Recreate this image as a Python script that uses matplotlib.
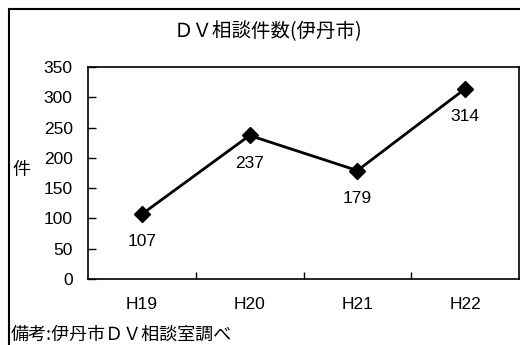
import matplotlib.pyplot as plt
import matplotlib.patches as patches

plt.rcParams['font.family'] = ['Liberation Sans', 'Noto Sans CJK JP', 'DejaVu Sans']

# データ
years = ['H19', 'H20', 'H21', 'H22']
counts = [107, 237, 179, 314]
yticks = [0, 50, 100, 150, 200, 250, 300, 350]

W, H = 520, 345
fig = plt.figure(figsize=(W / 100, H / 100), dpi=100)
ax = fig.add_axes([88 / W, 66 / H, 431 / W, 212 / H])

x = range(len(years))
ax.plot(x, counts, color='black', lw=2, marker='D', ms=8, zorder=3)
for xi, v in zip(x, counts):
    ax.annotate(str(v), (xi, v), xytext=(0, -20), textcoords='offset points',
                ha='center', va='center', fontsize=12.5)

ax.set_xlim(-0.5, 3.5)
ax.set_ylim(0, 350)
ax.set_yticks(yticks)
ax.set_xticks(list(x))
ax.set_xticklabels(years)
ax.set_xticks([0.5, 1.5, 2.5], minor=True)
ax.tick_params(axis='x', which='major', length=0, pad=13, labelsize=12.5)
ax.tick_params(axis='x', which='minor', direction='in', length=5, width=1)
ax.tick_params(axis='y', direction='in', length=6, width=1, pad=11, labelsize=12.5)
for s in ax.spines.values():
    s.set_linewidth(1.2)

fig.text(21 / W, 1 - 170 / H, '件', fontsize=13, ha='center', va='center',
         family=['Noto Sans CJK JP'])
fig.text(268 / W, 1 - 32 / H, 'ＤＶ相談件数(伊丹市)', fontsize=14, ha='center',
         va='center', family=['Noto Sans CJK JP', 'DejaVu Sans'])
fig.text(11 / W, 1 - 335 / H, '備考:伊丹市ＤＶ相談室調べ', fontsize=13, ha='left',
         va='center', family=['Noto Sans CJK JP', 'DejaVu Sans'])

frame = patches.Rectangle((9 / W, -0.1), 1.0, 1 - 9 / H + 0.1, transform=fig.transFigure,
                          fill=False, lw=1.5, edgecolor='black', clip_on=False)
fig.patches.append(frame)

fig.savefig('out.png', dpi=100)
